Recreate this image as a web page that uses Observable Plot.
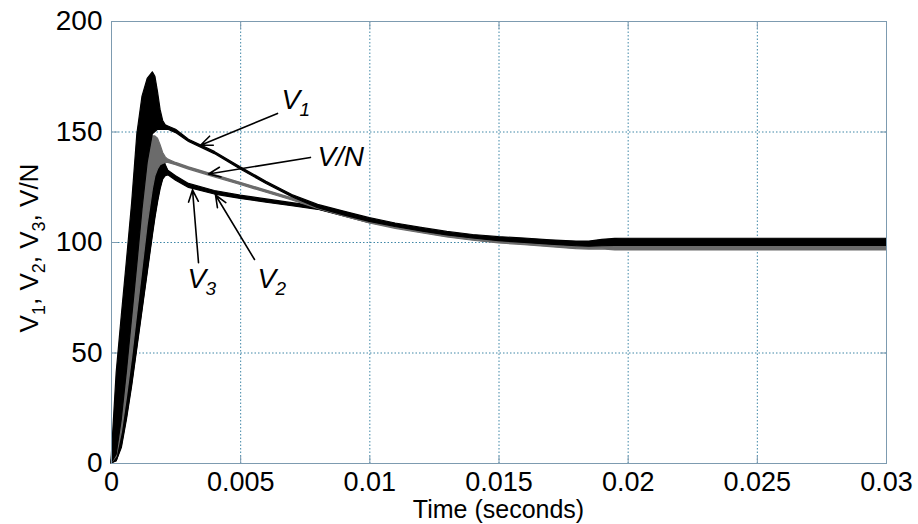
<!DOCTYPE html>
<html>
<head>
<meta charset="utf-8">
<script src="https://cdn.jsdelivr.net/npm/d3@7"></script>
<script src="https://cdn.jsdelivr.net/npm/@observablehq/plot@0.6"></script>
<style>
  html, body { margin: 0; padding: 0; background: #fff; overflow: hidden; }
  #chart svg { display: block; }
</style>
</head>
<body>
<div id="chart"></div>
<script>
// ---- data ----
const time = [0, 0.0002, 0.0004, 0.0006, 0.0008, 0.001, 0.0012, 0.0014, 0.0016, 0.0017,
  0.0018, 0.0019, 0.002, 0.0021, 0.0022, 0.0025, 0.003, 0.004, 0.005, 0.006,
  0.007, 0.008, 0.009, 0.01, 0.011, 0.012, 0.013, 0.014, 0.015, 0.016,
  0.017, 0.018, 0.0185, 0.019, 0.0195, 0.02, 0.022, 0.024, 0.026, 0.028, 0.03];

// ripple envelopes (upper / lower) of each voltage
const v1Hi = [1, 41, 67, 92, 118, 149, 166, 174, 177, 175, 168, 160, 155, 153, 152.5, 151, 146.5, 141, 134, 127.5,
  121.5, 117, 114, 111, 108.6, 106.6, 104.8, 103.4, 102.4, 101.8, 101, 100.4, 100.4, 101.2, 101.6, 101.7, 101.7, 101.7, 101.7, 101.7, 101.7];
const v1Lo = [0, 4, 20, 42, 66, 90, 115, 136, 149, 150, 151, 151, 151, 151, 151, 149.5, 145.5, 140, 133, 126.5,
  120.5, 115.5, 112.3, 109.3, 107, 105, 103.2, 101.8, 100.6, 99.8, 99, 98.3, 98.1, 98.3, 98.5, 98.5, 98.5, 98.5, 98.5, 98.5, 98.5];

const vnHi = [0, 30, 54, 78, 102, 124, 139, 146, 148, 148, 147, 144, 140.5, 138.5, 137.5, 136, 134, 130.5, 127, 123.5,
  120, 116.6, 113.4, 110.4, 108, 106, 104.1, 102.6, 101.4, 100.6, 99.7, 99, 98.8, 99, 99.3, 99.4, 99.4, 99.4, 99.4, 99.4, 99.4];
const vnLo = [0, 3, 14, 30, 48, 68, 88, 108, 124, 130, 133, 135, 135.5, 136, 136, 135, 133, 129.5, 126, 122.5,
  119, 115.2, 111.8, 108.6, 106.2, 104.2, 102.3, 100.8, 99.6, 98.8, 97.9, 97, 96.8, 96.9, 96.4, 96.4, 96.4, 96.4, 96.4, 96.4, 96.4];

const v2Hi = [0, 18, 38, 60, 82, 102, 118, 129, 136, 138.5, 140, 140, 138.5, 135, 132.5, 130, 126.5, 123.3, 121.2, 119.5,
  117.8, 116.2, 113.2, 110.2, 108, 106, 104, 102.5, 101.3, 100.5, 99.8, 99.2, 99.2, 99.8, 100.4, 100.6, 100.6, 100.6, 100.6, 100.6, 100.6];
const v2Lo = [0, 1, 8, 21, 36, 53, 70, 87, 104, 112, 119, 125, 129, 130.5, 131, 128.5, 125.3, 122.3, 120.2, 118.5,
  116.8, 115, 112, 109, 107, 105, 103, 101.6, 100.4, 99.6, 98.8, 98, 97.8, 98, 98.3, 98.4, 98.4, 98.4, 98.4, 98.4, 98.4];

const v3Hi = [0, 17, 36, 58, 80, 100, 116, 127, 134, 137, 139, 139.5, 138, 134.5, 132, 129.4, 125.9, 122.7, 120.7, 119,
  117.4, 116, 113, 110, 107.9, 105.9, 103.9, 102.4, 101.2, 100.4, 99.7, 99.1, 99.1, 99.7, 100.3, 100.5, 100.5, 100.5, 100.5, 100.5, 100.5];
const v3Lo = [0, 1, 7, 20, 35, 52, 69, 86, 103, 111, 118, 124, 128.5, 130, 130.4, 127.9, 124.7, 121.7, 119.7, 118,
  116.4, 114.8, 111.8, 108.8, 106.9, 104.9, 102.9, 101.5, 100.3, 99.5, 98.7, 97.9, 97.7, 97.9, 98.2, 98.3, 98.3, 98.3, 98.3, 98.3, 98.3];

const xTicks = [0, 0.005, 0.01, 0.015, 0.02, 0.025, 0.03];
const xTickLabels = ["0", "0.005", "0.01", "0.015", "0.02", "0.025", "0.03"];
const yTicks = [0, 50, 100, 150, 200];
const yTickLabels = ["0", "50", "100", "150", "200"];

const xLabel = "Time (seconds)";
const yLabelParts = [{main: "V", sub: "1"}, {main: "V", sub: "2"}, {main: "V", sub: "3"}, {main: "V/N", sub: ""}];

// annotations (data coordinates)
const annLabels = [
  {t: 0.00658, v: 160.6, main: "V", sub: "1"},
  {t: 0.00797, v: 134.4, main: "V/N", sub: ""},
  {t: 0.00294, v: 79.6, main: "V", sub: "3"},
  {t: 0.00565, v: 79.6, main: "V", sub: "2"}
];
const annArrows = [
  {t1: 0.006426, v1: 158.4, t2: 0.003445, v2: 144},
  {t1: 0.0077, v1: 138.5, t2: 0.003755, v2: 131},
  {t1: 0.003368, v1: 90.9, t2: 0.003136, v2: 123.8},
  {t1: 0.005536, v1: 92.3, t2: 0.004026, v2: 121.5}
];

// ---- build tables ----
const rows = (hi, lo) => time.map((t, i) => ({t, hi: hi[i], lo: lo[i]}));
const series = [
  {name: "V3", data: rows(v3Hi, v3Lo), color: "#000000"},
  {name: "V2", data: rows(v2Hi, v2Lo), color: "#000000"},
  {name: "V/N", data: rows(vnHi, vnLo), color: "#6b6b6b"},
  {name: "V1", data: rows(v1Hi, v1Lo), color: "#000000"}
];

const FONT = "Arial, 'Liberation Sans', Helvetica, sans-serif";
const axisColor = "#7d9bb0";
const gridColor = "#3f86a6";

const W = 918, H = 524;
const chart = Plot.plot({
  width: W,
  height: H,
  marginLeft: 111,
  marginRight: 32,
  marginTop: 21,
  marginBottom: 61,
  style: {fontFamily: FONT, background: "#fff", overflow: "visible"},
  x: {domain: [0, 0.03]},
  y: {domain: [0, 200]},
  marks: [
    Plot.gridX(xTicks, {stroke: gridColor, strokeOpacity: 1, strokeDasharray: "1.5,2", strokeWidth: 1}),
    Plot.gridY(yTicks, {stroke: gridColor, strokeOpacity: 1, strokeDasharray: "1.5,2", strokeWidth: 1}),
    // inward tick marks on the four sides
    Plot.axisX(xTicks, {anchor: "bottom", tickSize: 7, dy: -7, tickFormat: () => "", label: null, stroke: axisColor}),
    Plot.axisX(xTicks, {anchor: "top", tickSize: 7, dy: 7, tickFormat: () => "", label: null, stroke: axisColor}),
    Plot.axisY(yTicks, {anchor: "left", tickSize: 7, dx: 7, tickFormat: () => "", label: null, stroke: axisColor}),
    Plot.axisY(yTicks, {anchor: "right", tickSize: 7, dx: -7, tickFormat: () => "", label: null, stroke: axisColor}),
    // tick labels
    Plot.axisX(xTicks, {anchor: "bottom", tickSize: 0, tickPadding: 8, fontSize: 27, label: null,
      tickFormat: (d, i) => xTickLabels[i], fill: "#000"}),
    Plot.axisY(yTicks, {anchor: "left", tickSize: 0, tickPadding: 9, fontSize: 28, label: null,
      tickFormat: (d, i) => yTickLabels[i], fill: "#000"}),
    // voltage traces as ripple bands
    ...series.map(s => Plot.areaY(s.data, {x: "t", y1: "lo", y2: "hi", fill: s.color, stroke: s.color, strokeWidth: 1.2})),
    Plot.frame({stroke: axisColor, strokeWidth: 1}),
    // annotations
    Plot.arrow(annArrows, {x1: "t1", y1: "v1", x2: "t2", y2: "v2", stroke: "#000", strokeWidth: 1.6, headLength: 12, headAngle: 45}),
    Plot.text(annLabels, {x: "t", y: "v", text: "main", fontSize: 28, fontStyle: "italic", textAnchor: "start", lineAnchor: "bottom", fill: "#000"}),
    Plot.text(annLabels.filter(d => d.sub), {x: "t", y: "v", text: "sub", fontSize: 19, fontStyle: "italic", textAnchor: "start", lineAnchor: "bottom", dx: 18, dy: 7, fill: "#000"})
  ]
});

const svg = d3.select(chart);
// x axis title
svg.append("text")
  .attr("x", (111 + (W - 32)) / 2)
  .attr("y", 518)
  .attr("text-anchor", "middle")
  .attr("font-size", 25)
  .attr("font-family", FONT)
  .attr("fill", "#000")
  .text(xLabel);
// y axis title with subscripts
const yl = svg.append("text")
  .attr("transform", `translate(38,248) rotate(-90)`)
  .attr("text-anchor", "middle")
  .attr("font-size", 26)
  .attr("font-family", FONT)
  .attr("fill", "#000");
yLabelParts.forEach((p, i) => {
  yl.append("tspan").text(p.main);
  let shift = 0;
  if (p.sub) { yl.append("tspan").attr("font-size", 18).attr("dy", 7).text(p.sub); shift = -7; }
  if (i < yLabelParts.length - 1) yl.append("tspan").attr("dy", shift).text(",\u00a0");
});

document.getElementById("chart").appendChild(chart);
</script>
</body>
</html>
